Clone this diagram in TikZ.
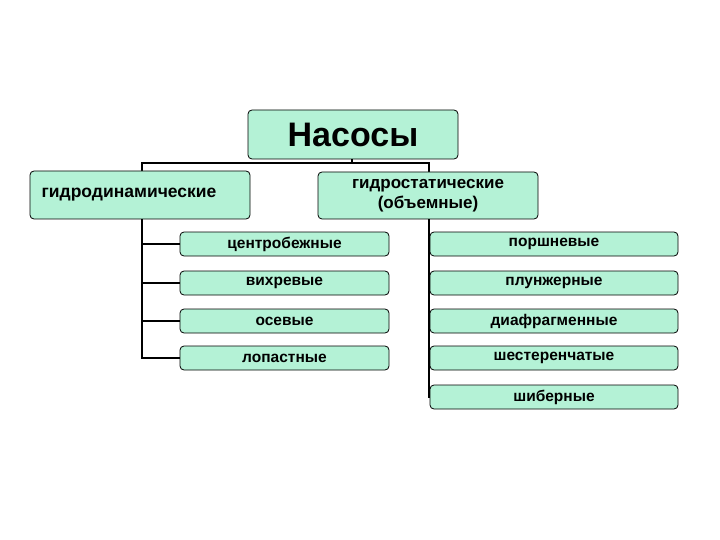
\documentclass[tikz,border=0pt]{standalone}
\usepackage{fontspec}
\setmainfont{Liberation Sans}
\begin{document}
\begin{tikzpicture}[x=1pt,y=-1pt,
  box/.style={draw=black,line width=0.8pt,fill=boxfill,rounded corners=4pt,inner sep=0pt,font=\bfseries},
  small/.style={box,minimum height=24,font=\bfseries\fontsize{15.5}{17}\selectfont},
  lnk/.style={line width=1.6pt,line cap=rect}]
\definecolor{boxfill}{RGB}{180,242,214}
\useasboundingbox (0,0) rectangle (720,540);
\coordinate (LT) at (142,163);
\coordinate (RT) at (429,163);
\coordinate (LB) at (142,358);
\coordinate (RB) at (429,397);
\draw[lnk] (352,159) -- (352,163);
\draw[lnk] (LT) -- (RT);
\draw[lnk] (LT) -- (LB);
\draw[lnk] (RT) -- (RB);
\node[box,minimum width=210,minimum height=49,font=\bfseries\fontsize{34}{36}\selectfont] (top) at (353,134.5) {Насосы};
\node[box,minimum width=220,minimum height=48,font=\bfseries\fontsize{17.5}{20}\selectfont] (hd) at (140,195) {\hspace*{-22pt}гидродинамические};
\node[box,align=center,minimum width=220,minimum height=47,font=\bfseries\fontsize{17}{20}\selectfont] (hs) at (428,195.5) {гидростатические\\(объемные)};
\foreach \n/\y/\t in {l1/244/центробежные,l2/283/вихревые,l3/321/осевые,l4/358/лопастные}{
  \node[small,minimum width=209] (\n) at (284.5,\y) {\t};
  \draw[lnk] (142,\y) -- (\n.west);
}
\foreach \n/\y/\t in {r1/244/поршневые,r2/283/плунжерные,r3/321/диафрагменные,r4/358/шестеренчатые,r5/397/шиберные}{
  \node[small,minimum width=248] (\n) at (554,\y) {\t};
  \draw[lnk] (429,\y) -- (\n.west);
}
\end{tikzpicture}
\end{document}
